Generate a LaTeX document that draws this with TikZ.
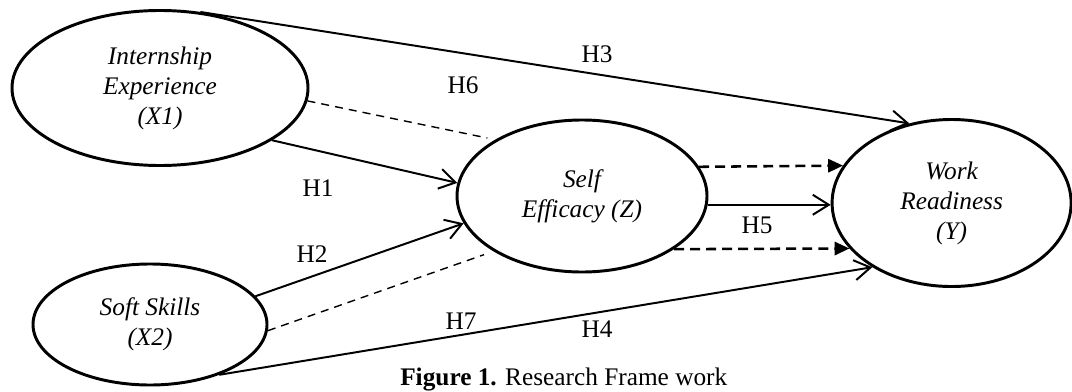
\documentclass[tikz,border=0pt]{standalone}
\usepackage{fontspec}
\setmainfont{Liberation Serif}
\usetikzlibrary{arrows.meta, shapes.geometric}

\begin{document}
\begin{tikzpicture}[
    construct/.style={ellipse, draw, line width=2.1pt, inner sep=0pt, align=center, font=\fontsize{18}{21.3}\selectfont\itshape},
    link/.style={line width=1.4pt, -{Straight Barb[length=0.4cm, width=0.5cm]}},
    indirect/.style={line width=1pt, dash pattern=on 5.7pt off 4.3pt},
    mediate/.style={line width=1.8pt, dash pattern=on 7.1pt off 4.3pt, -{Triangle[length=0.37cm, width=0.33cm]}},
    hyp/.style={font=\fontsize{18}{21.3}\selectfont}
]
\useasboundingbox (0,0) rectangle (26.8,9.775);

% constructs
\node[construct, minimum width=7.4cm, minimum height=3.875cm] (X1) at (4.0,7.575) {Internship\\Experience\\(X1)};
\node[construct, minimum width=5.85cm, minimum height=3.025cm] (X2) at (3.75,1.6625) {Soft Skills\\(X2)};
\node[construct, minimum width=6.25cm, minimum height=3.8cm] (Z) at (14.55,4.875) {Self\\Efficacy (Z)};
\node[construct, minimum width=5.975cm, minimum height=4.175cm] (Y) at (23.79,4.7) {Work\\Readiness\\(Y)};

% direct paths
\draw[link] (X1.62) -- (Y.118);
\draw[link] (X1.335) -- (Z.174);
\draw[link] (X2.15) -- (Z.193);
\draw[link] (X2.324) -- (Y.219);
\draw[link] (Z.356) -- (Z.356 -| Y.west);

% mediation
\draw[indirect, shorten >=0.2cm] (X1.355) -- (Z.147);
\draw[indirect, shorten >=0.25cm] (X2.357) -- (Z.212);
\draw[mediate] (Z.14) -- (Y.161);
\draw[mediate] (Z.330) -- (Y.204);

% hypotheses
\node[hyp] (H3) at (14.925,8.425) {H3};
\node[hyp] (H6) at (11.575,7.65) {H6};
\node[hyp] (H1) at (7.95,5.075) {H1};
\node[hyp] (H2) at (7.8,3.425) {H2};
\node[hyp] (H5) at (18.925,4.15) {H5};
\node[hyp] (H7) at (11.525,1.75) {H7};
\node[hyp] (H4) at (14.925,1.55) {H4};

\node[hyp, anchor=base west, inner sep=0pt] (caption) at (10.0,0.14) {\textbf{Figure 1.} Research Frame work};

\end{tikzpicture}
\end{document}
